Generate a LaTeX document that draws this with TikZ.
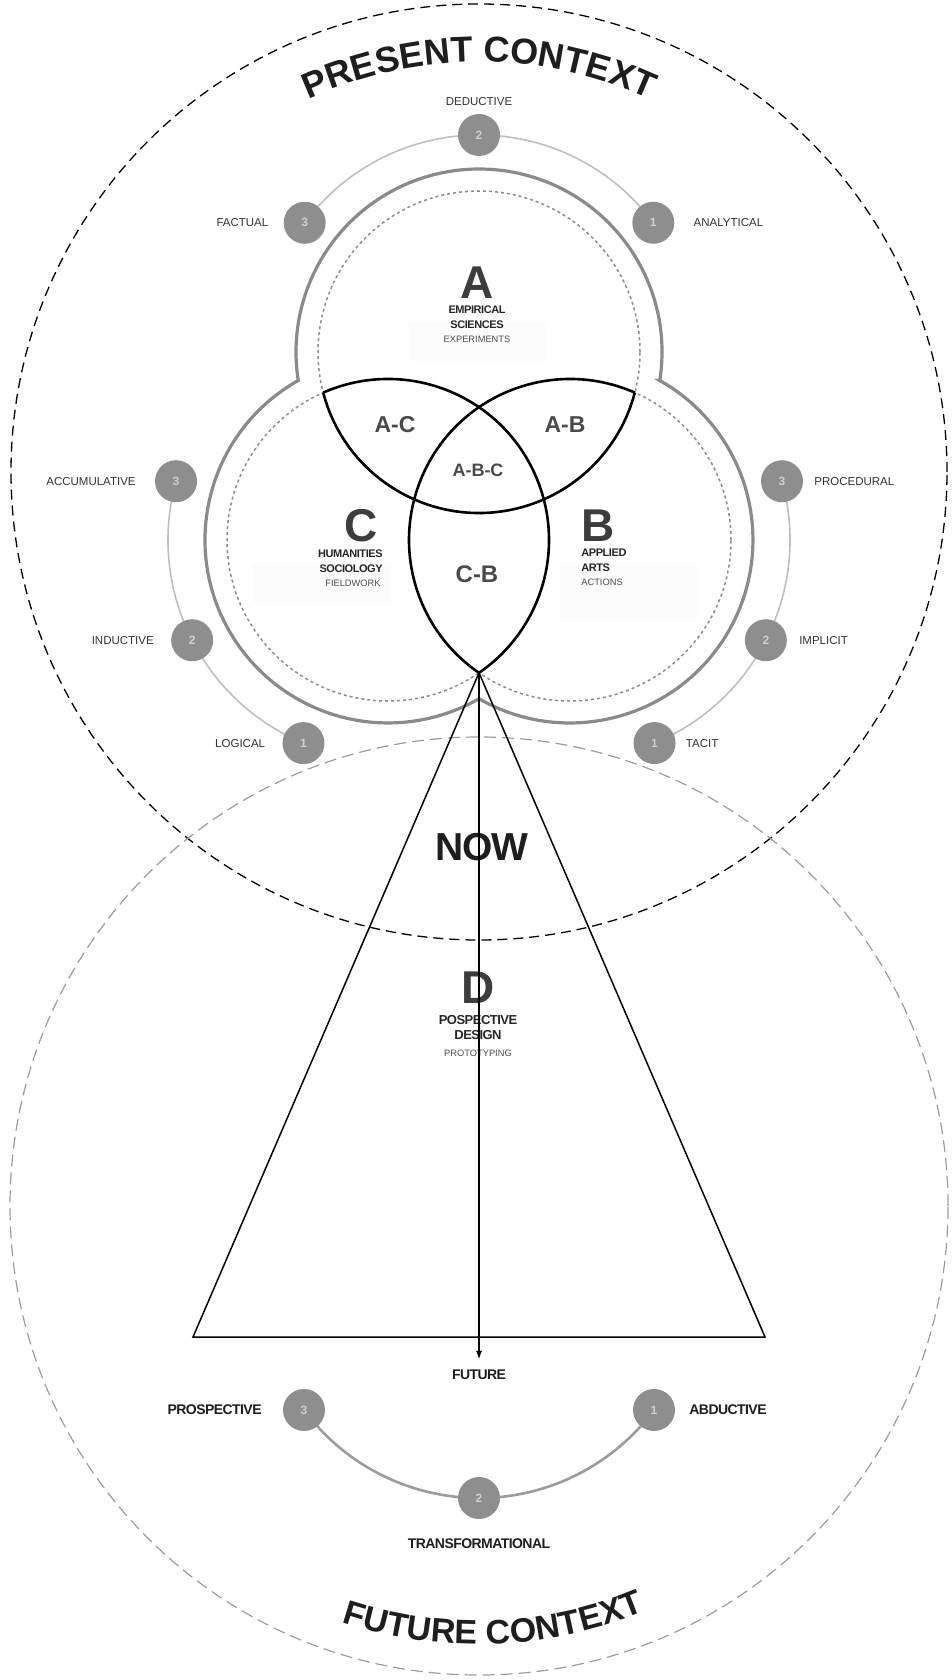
\documentclass[tikz,border=0pt]{standalone}
\usepackage{fontspec}
\setmainfont{Liberation Sans}
\newfontfamily\tightsf[LetterSpace=-4]{Liberation Sans}
\usepackage{tikz}
\usetikzlibrary{arrows.meta, positioning, decorations.text, backgrounds}

\definecolor{inkdark}{HTML}{1E1E1E}
\definecolor{letgray}{HTML}{3D3D3D}
\definecolor{lensgray}{HTML}{4A4A4A}
\definecolor{bubblefill}{HTML}{8E8E8E}
\definecolor{bubbletext}{HTML}{CFCFCF}
\definecolor{ringgray}{HTML}{BFBFBF}
\definecolor{hullgray}{HTML}{8A8A8A}
\definecolor{dotgray}{HTML}{8C8C8C}
\definecolor{futgray}{HTML}{9C9C9C}

\begin{document}
\begin{tikzpicture}[x=1pt, y=1pt,
      bubble/.style={circle, fill=bubblefill, minimum size=42pt, inner sep=0pt,
                     text=bubbletext, font=\fontsize{12}{12}\selectfont\bfseries},
      ringlbl/.style={inner sep=0pt, text=black!80, font=\fontsize{11.5}{13}\selectfont},
      futlbl/.style={inner sep=0pt, text=inkdark, font=\fontsize{14}{16}\selectfont\tightsf\bfseries},
      bigletter/.style={inner sep=0pt, text=letgray, font=\fontsize{46}{46}\selectfont\bfseries},
      lens/.style={inner sep=0pt, text=lensgray, font=\fontsize{23}{23}\selectfont\bfseries},
      sub/.style={inner sep=0pt, text=black!85, font=\fontsize{11}{15}\selectfont\tightsf\bfseries},
      note/.style={inner sep=0pt, text=black!70, font=\fontsize{9.3}{11}\selectfont},
      ring/.style={ringgray, line width=1.6pt},
      futring/.style={futgray, line width=2.6pt},
      venn/.style={dotgray, line width=1.5pt, dash pattern=on 3pt off 3pt},
      lensline/.style={black, line width=2.6pt},
      faint/.style={fill=black!1.2, draw=none},
      arr/.style={-{Latex[length=9pt, width=6pt]}, line width=1.8pt}
    ]
    \useasboundingbox (0,0) rectangle (952,-1680);

    % centres of the three knowledge circles
    \coordinate (cA) at (479,-352);
    \coordinate (cB) at (570,-540);
    \coordinate (cC) at (388,-540);
    \coordinate (tip) at (479,-672.8);
    \coordinate (baseL) at (193,-1337);
    \coordinate (baseR) at (765,-1337);

    % faint boxes behind the sub labels
    \fill[faint] (409,-322) rectangle (547,-361);
    \fill[faint] (253,-564) rectangle (391,-605);
    \fill[faint] (560,-564) rectangle (697,-619);

    % present / future contexts
    \draw[black, line width=1.3pt, dash pattern=on 10pt off 6pt] (479,-472) circle[radius=468];
    \draw[futgray, line width=1.2pt, dash pattern=on 12pt off 6pt] (479,-1206) circle[radius=469];

    \path[decorate, decoration={text along path, text align=center, text color=inkdark,
          text={|\fontsize{36}{36}\selectfont\bfseries|PRESENT CONTEXT}}]
      ([shift={(122:410)}]479,-472) arc[start angle=122, end angle=58, radius=410];
    \path[decorate, decoration={text along path, text align=center, text color=inkdark,
          text={|\fontsize{34}{34}\selectfont\bfseries|FUTURE CONTEXT}}]
      ([shift={(242:438)}]479,-1206) arc[start angle=242, end angle=302, radius=438];

    % venn circles
    \draw[venn] (cA) circle[radius=161];
    \draw[venn] (cB) circle[radius=161];
    \draw[venn] (cC) circle[radius=161];

    % outer hull
    \draw[hullgray, line width=3.2pt]
      ([shift={(-8.96:183)}]cA) arc[start angle=-8.96, end angle=188.96, radius=183]
      arc[start angle=119.38, end angle=299.81, radius=183]
      arc[start angle=-119.81, end angle=60.62, radius=183] -- cycle;

    % overlaps
    \draw[lensline] ([shift={(194.6:161)}]cA) arc[start angle=194.6, end angle=345.4, radius=161];
    \draw[lensline] ([shift={(113.76:161)}]cC) arc[start angle=113.76, end angle=-55.58, radius=161];
    \draw[lensline] ([shift={(66.24:161)}]cB) arc[start angle=66.24, end angle=235.58, radius=161];

    % cone
    \draw[line width=1.5pt] (tip) -- (baseL) -- (baseR) -- cycle;

    % circle labels
    \node[bigletter] (letA) at (477,-283) {A};
    \node[sub, align=center, below=7pt of letA] (subA) {EMPIRICAL\\SCIENCES};
    \node[note, below=7pt of subA] (expA) {EXPERIMENTS};

    \node[bigletter] (letC) at (361,-526) {C};
    \node[sub, align=right, below=7pt of letC.south east, anchor=north east, xshift=5pt] (subC) {HUMANITIES\\SOCIOLOGY};
    \node[note, below=7pt of subC.south east, anchor=north east, xshift=-2pt] (expC) {FIELDWORK};

    \node[bigletter] (letB) at (598,-526) {B};
    \node[sub, align=left, below=7pt of letB.south west, anchor=north west] (subB) {APPLIED\\ARTS};
    \node[note, below=7pt of subB.south west, anchor=north west] (expB) {ACTIONS};

    \node[lens] (lAC) at (395,-425) {A-C};
    \node[lens] (lAB) at (565,-425) {A-B};
    \node[lens, font=\fontsize{18}{18}\selectfont\bfseries] (lABC) at (478,-470) {A-B-C};
    \node[lens, font=\fontsize{24}{24}\selectfont\bfseries] (lCB) at (477,-574) {C-B};

    \node[inner sep=0pt, text=inkdark, font=\fontsize{39}{39}\selectfont\tightsf\bfseries] (now) at (482,-847) {NOW};

    \node[bigletter] (letD) at (478,-988) {D};
    \node[sub, align=center, below=11pt of letD, font=\fontsize{13}{15}\selectfont\tightsf\bfseries] (subD) {POSPECTIVE\\DESIGN};
    \node[note, below=10pt of subD] (expD) {PROTOTYPING};

    \node[futlbl] (fut) at (479,-1375) {FUTURE};
    \draw[arr, shorten >=10pt] (tip) -- (fut.north);

    % ways of knowing
    \node[bubble] (fac) at ([shift={(143.45:217)}]cA) {3};
    \node[bubble] (ded) at ([shift={(90:217)}]cA) {2};
    \node[bubble] (ana) at ([shift={(36.55:217)}]cA) {1};
    \node[bubble] (acc) at ([shift={(164.5:220)}]cC) {3};
    \node[bubble] (ind) at ([shift={(207.1:220)}]cC) {2};
    \node[bubble] (logi) at ([shift={(247.4:220)}]cC) {1};
    \node[bubble] (proc) at ([shift={(15.5:220)}]cB) {3};
    \node[bubble] (impl) at ([shift={(-27.1:220)}]cB) {2};
    \node[bubble] (tac) at ([shift={(-67.4:220)}]cB) {1};
    \node[bubble] (pros) at ([shift={(216.6:218)}]479,-1280) {3};
    \node[bubble] (trans) at ([shift={(270:218)}]479,-1280) {2};
    \node[bubble] (abd) at ([shift={(323.4:218)}]479,-1280) {1};

    \node[ringlbl, above=8pt of ded] (lDed) {DEDUCTIVE};
    \node[ringlbl, left=15pt of fac] (lFac) {FACTUAL};
    \node[ringlbl, right=19pt of ana] (lAna) {ANALYTICAL};
    \node[ringlbl, left=19pt of acc] (lAcc) {ACCUMULATIVE};
    \node[ringlbl, left=17pt of ind] (lInd) {INDUCTIVE};
    \node[ringlbl, left=17pt of logi] (lLog) {LOGICAL};
    \node[ringlbl, right=11pt of proc] (lProc) {PROCEDURAL};
    \node[ringlbl, right=12pt of impl] (lImpl) {IMPLICIT};
    \node[ringlbl, right=10pt of tac] (lTac) {TACIT};
    \node[futlbl, left=21pt of pros] (lPros) {PROSPECTIVE};
    \node[futlbl, right=14pt of abd] (lAbd) {ABDUCTIVE};
    \node[futlbl, below=19pt of trans] (lTrans) {TRANSFORMATIONAL};

    \begin{scope}[on background layer]
      \draw[ring] (fac.center) arc[start angle=143.45, end angle=36.55, radius=217];
      \draw[ring] (acc.center) arc[start angle=164.5, end angle=247.4, radius=220];
      \draw[ring] (proc.center) arc[start angle=15.5, end angle=-67.4, radius=220];
      \draw[futring] (pros.center) arc[start angle=216.6, end angle=323.4, radius=218];
    \end{scope}
  \end{tikzpicture}
\end{document}
